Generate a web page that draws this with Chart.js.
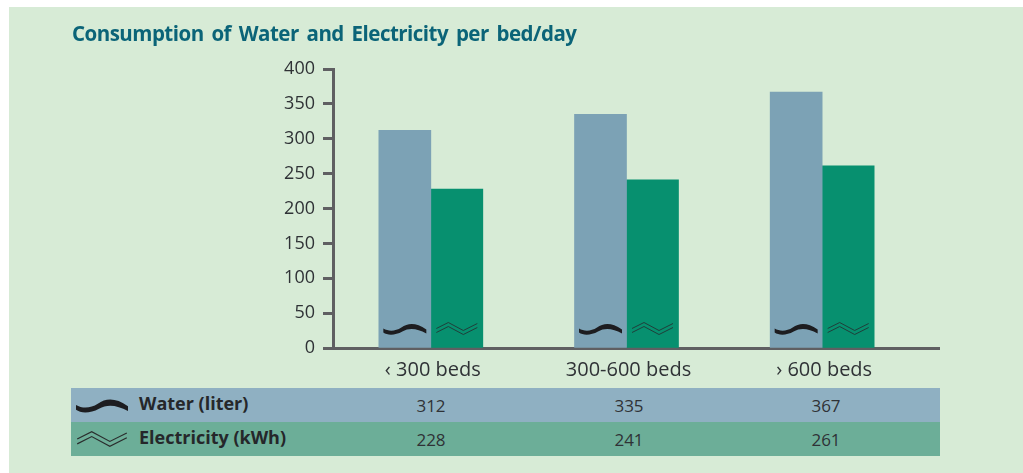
<!DOCTYPE html>
<html>
<head>
<meta charset="utf-8">
<script src="https://cdn.jsdelivr.net/npm/chart.js@4"></script>
<style>
  html, body { margin: 0; padding: 0; background: #fff; }
  body { width: 1023px; height: 473px; position: relative; overflow: hidden; font-family: "Open Sans", sans-serif; color: #2f2f33; }
  #panel { position: absolute; left: 9px; top: 7px; width: 1014px; height: 466px; background: #d7ebd6; }
  #wrap { position: absolute; left: 0; top: 0; width: 1023px; height: 473px; }
  #title { position: absolute; left: 72px; top: 19px; font: bold 20.5px "Open Sans", sans-serif; color: #0b6478; word-spacing: 3px; letter-spacing: -0.52px; white-space: nowrap; }
  .row { position: absolute; left: 71px; width: 869px; height: 34px; }
  .row b { position: absolute; left: 68px; top: 3px; font: bold 18px "Open Sans", sans-serif; color: #25272a; white-space: nowrap; }
  .row span { position: absolute; top: 6px; width: 80px; margin-left: -40px; text-align: center; font-size: 17px; color: #2f3236; }
  .row svg { position: absolute; left: 5px; top: 7px; }
</style>
</head>
<body>
<div id="panel"></div>
<div id="wrap"><canvas id="myChart" width="1023" height="473"></canvas></div>
<div id="title">Consumption of Water and Electricity per bed/day</div>
<div class="row" id="rowWater" style="top:388px;background:#8fb0c2"></div>
<div class="row" id="rowElec" style="top:422px;background:#6cae98"></div>
<script>
const categories = ['‹ 300 beds', '300-600 beds', '› 600 beds']
const water = [312, 335, 367]
const electricity = [228, 241, 261]
const yTicks = [0, 50, 100, 150, 200, 250, 300, 350, 400]
const rowLabels = ['Water (liter)', 'Electricity (kWh)']
// centres of the table columns, in page pixels
const columnX = [431, 629, 826]

const wavePath = 'M0 8 C5 11 12 11 18 7 C25 2 33 2 43 9 L43 13 C34 8 26 7 19 11 C12 15 4 15 0 12 Z'
const zigzagA = 'M1 8 L13 2 L28 10 L42 3'
const zigzagB = 'M1 12 L13 6 L28 14 L42 7'

function fillRow(el, label, values, icon) {
    let html = icon + `<b>${label}</b>`
    for (let i = 0; i < values.length; i++) {
        html += `<span style="left:${columnX[i] - 71}px">${values[i]}</span>`
    }
    el.innerHTML = html
}
const bigWave = `<svg width="52" height="20" viewBox="0 0 43 16"><path d="${wavePath}" fill="#1d1d20"/></svg>`
const bigZig = `<svg width="52" height="20" viewBox="0 0 43 16"><path d="${zigzagA}" fill="none" stroke="#2a2d2d" stroke-width="1"/><path d="${zigzagB}" fill="none" stroke="#2a2d2d" stroke-width="1"/></svg>`
fillRow(document.getElementById('rowWater'), rowLabels[0], water, bigWave)
fillRow(document.getElementById('rowElec'), rowLabels[1], electricity, bigZig)

// little icons sitting at the foot of each bar
const barIcons = {
    id: 'barIcons',
    afterDatasetsDraw(chart) {
        const ctx = chart.ctx
        ctx.save()
        chart.data.datasets.forEach((ds, d) => {
            chart.getDatasetMeta(d).data.forEach(bar => {
                ctx.save()
                ctx.translate(bar.x - 21.5, bar.base - 27)
                if (d == 0) {
                    ctx.fillStyle = '#1d1d20'
                    ctx.fill(new Path2D(wavePath))
                } else {
                    ctx.strokeStyle = '#1f3f3a'
                    ctx.lineWidth = 1
                    ctx.stroke(new Path2D(zigzagA))
                    ctx.stroke(new Path2D(zigzagB))
                }
                ctx.restore()
            })
        })
        // axis line runs on past the last category
        ctx.strokeStyle = '#5f5f62'
        ctx.lineWidth = 3
        ctx.beginPath()
        ctx.moveTo(chart.chartArea.right - 1, chart.chartArea.bottom + 0.5)
        ctx.lineTo(940, chart.chartArea.bottom + 0.5)
        ctx.stroke()
        ctx.restore()
    }
}

const ctx = document.getElementById('myChart').getContext('2d')
new Chart(ctx, {
    type: 'bar',
    data: {
        labels: categories,
        datasets: [
            { label: 'Water (liter)', data: water, backgroundColor: '#7ca2b5', barThickness: 52 },
            { label: 'Electricity (kWh)', data: electricity, backgroundColor: '#07906f', barThickness: 52 }
        ]
    },
    plugins: [barIcons],
    options: {
        responsive: false,
        animation: false,
        layout: { padding: { left: 0, top: 69, right: 1023 - 920, bottom: 473 - 348 - 40 } },
        plugins: { legend: { display: false }, tooltip: { enabled: false } },
        scales: {
            x: {
                afterFit(axis) { axis.height = 40 },
                grid: { display: false, drawTicks: false },
                border: { color: '#5f5f62', width: 3 },
                ticks: { color: '#2f3236', font: { family: 'Open Sans', size: 20 }, padding: 10, labelOffset: 2, maxRotation: 0 }
            },
            y: {
                min: 0,
                max: 400,
                afterFit(axis) { axis.width = 333 },
                afterBuildTicks(axis) { axis.ticks = yTicks.map(v => ({ value: v })) },
                grid: { drawOnChartArea: false, color: '#5f5f62', tickLength: 10, tickWidth: 3 },
                border: { color: '#5f5f62', width: 3 },
                ticks: { color: '#2f3236', font: { family: 'Open Sans', size: 18 }, padding: 8 }
            }
        }
    }
})
</script>
</body>
</html>
